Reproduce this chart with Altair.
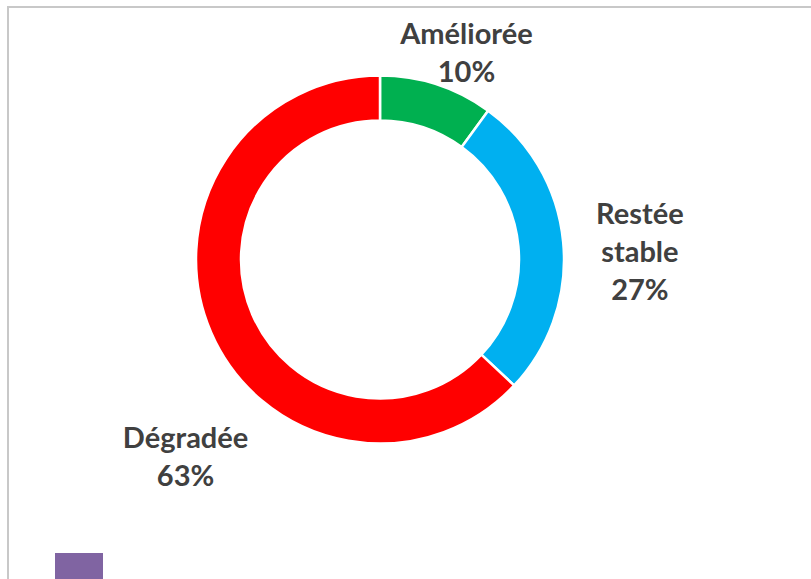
import altair as alt
import pandas as pd

categories = ["Améliorée", "Restée stable", "Dégradée"]
label_lines = ["Améliorée", "Restée\nstable", "Dégradée"]
values = [10, 27, 63]
colors = ["#00B050", "#00B0F0", "#FF0000"]

df = pd.DataFrame({
    "category": categories,
    "label": label_lines,
    "value": values,
    "order": list(range(len(categories))),
})

CX, CY = 380, 259.5

base = alt.Chart(df)

theta = alt.Theta("value:Q", stack=True)
color = alt.Color("category:N", scale=alt.Scale(domain=categories, range=colors), legend=None)
order = alt.Order("order:Q", sort="ascending")

donut = base.mark_arc(
    outerRadius=184, innerRadius=139, stroke="white", strokeWidth=2.5
).encode(
    theta=theta, color=color, order=order,
    x=alt.value(CX), y=alt.value(CY),
)

def label_layer(cat, radius, dx, dy):
    return base.mark_text(
        font="Lato", fontSize=29, fontWeight="bold", color="#404040",
        lineBreak="\n", lineHeight=38, align="center", baseline="middle",
        radius=radius, dx=dx, dy=dy,
    ).transform_calculate(
        txt=f"datum.category == '{cat}' ? datum.label + '\\n' + datum.value + '%' : ''"
    ).encode(
        theta=theta, order=order, text="txt:N",
        x=alt.value(CX), y=alt.value(CY),
    )

labels = [
    label_layer("Améliorée", 215, 20, -20),
    label_layer("Restée stable", 260, 1, -20),
    label_layer("Dégradée", 250, 35, 80),
]

frame = base.mark_rect(fill=None, stroke="#C8C8C8", strokeWidth=2).encode(
    x=alt.value(8), x2=alt.value(840), y=alt.value(7), y2=alt.value(620)
).transform_filter("datum.order == 0")

swatch = base.mark_rect(fill="#8064A2").encode(
    x=alt.value(55), x2=alt.value(103), y=alt.value(553), y2=alt.value(600)
).transform_filter("datum.order == 0")

chart = alt.layer(frame, donut, *labels, swatch).properties(
    width=811, height=579, padding=0, autosize=alt.AutoSizeParams(type="none"),
    background="white",
).configure_view(stroke=None)

chart.save("out.html", embed_options={"renderer": "svg", "actions": False})
